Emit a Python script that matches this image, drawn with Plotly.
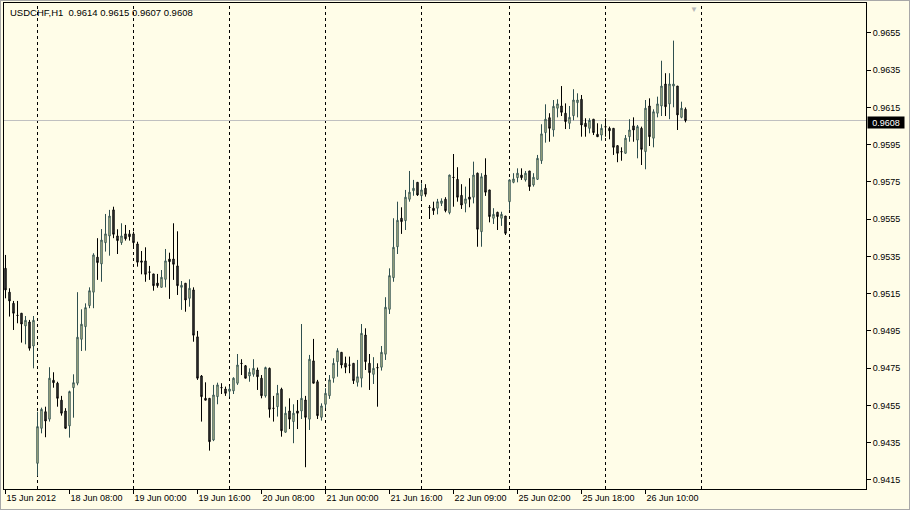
import plotly.graph_objects as go

symbol_title = "USDCHF,H1  0.9614 0.9615 0.9607 0.9608"

open_ = [
    .95286, .95158, .95098, .95034, .95045, .94977, .94998, .94869, .94239, .94427,
    .94516, .94476, .94685, .94669, .94578, .94520, .94440, .94645, .94669, .94905,
    .94973, .95086, .95158, .95346, .95310, .95424, .95460, .95600, .95460, .95424,
    .95471, .95471, .95471, .95417, .95326, .95326, .95267, .95256, .95207, .95184,
    .95227, .95336, .95336, .95299, .95184, .95206, .95125, .95170, .94918, .94708,
    .94588, .94588, .94364, .94597, .94646, .94638, .94626, .94628, .94669, .94776,
    .94763, .94708, .94717, .94740, .94696, .94601, .94749, .94535, .94543, .94637,
    .94406, .94520, .94463, .94520, .94520, .94579, .94476, .94789, .94677, .94486,
    .94556, .94602, .94696, .94785, .94835, .94776, .94767, .94776, .94674, .94696,
    .94928, .94776, .94717, .94753, .94755, .94825, .95066, .95236, .95402, .95555,
    .95542, .95657, .95703, .95748, .95676, .95716, .95614, .95609, .95609, .95635,
    .95657, .95585, .95775, .95764, .95678, .95635, .95669, .95668, .95797, .95483,
    .95787, .95707, .95555, .95587, .95555, .95567, .95644, .95748, .95773, .95787,
    .95761, .95809, .95734, .95764, .95864, .96015, .96095, .96029, .96146, .96158,
    .96119, .96065, .96106, .96176, .96194, .96065, .96038, .96087, .96006, .96002,
    .96047, .96038, .96038, .95945, .95913, .95904, .95993, .96051, .95975, .96038,
    .95913, .96158, .95985, .96119, .96158, .96276, .96169, .96265, .96265, .96097,
    .9614,
]
high = [
    .95358, .95179, .95111, .95111, .95046, .95030, .95009, .95030, .94516, .94538,
    .94543, .94755, .94728, .94677, .94601, .94535, .94629, .94717, .95158, .95066,
    .95098, .95184, .95367, .95448, .95497, .95578, .95600, .95617, .95496, .95528,
    .95519, .95492, .95483, .95429, .95379, .95399, .95299, .95256, .95256, .95277,
    .95390, .95370, .95528, .95485, .95218, .95206, .95227, .95184, .94950, .94713,
    .94674, .94588, .94660, .94672, .94669, .94651, .94651, .94701, .94826, .94798,
    .94767, .94749, .94798, .94753, .94713, .94758, .94753, .94601, .94660, .94645,
    .94543, .94588, .94556, .94579, .94987, .94601, .94821, .94907, .94687, .94561,
    .94642, .94713, .94803, .94857, .94835, .94812, .94812, .94776, .94794, .94987,
    .94964, .94826, .94809, .94776, .94869, .95131, .95286, .95555, .95644, .95614,
    .95707, .95809, .95761, .95748, .95743, .95738, .95626, .95644, .95659, .95662,
    .95668, .95789, .95900, .95829, .95738, .95725, .95770, .95859, .95800, .95797,
    .95877, .95707, .95609, .95590, .95590, .95567, .95764, .95797, .95823, .95823,
    .95809, .95809, .95797, .95895, .96060, .96167, .96119, .96190, .96194, .96265,
    .96172, .96158, .96248, .96226, .96217, .96092, .96092, .96087, .96065, .96060,
    .96092, .96047, .96038, .95945, .95936, .96002, .96087, .96097, .96056, .96047,
    .96190, .96199, .96140, .96208, .96401, .96334, .96334, .96509, .96265, .96181,
    .9615,
]
low = [
    .95125, .95027, .94955, .94991, .94887, .94878, .94844, .94749, .94171, .94400,
    .94379, .94463, .94645, .94543, .94495, .94423, .94377, .94484, .94658, .94842,
    .94844, .95072, .95072, .95224, .95214, .95376, .95354, .95448, .95363, .95412,
    .95435, .95435, .95402, .95295, .95254, .95214, .95224, .95166, .95182, .95184,
    .95184, .95122, .95224, .95143, .95063, .95053, .95080, .94892, .94687, .94463,
    .94578, .94307, .94358, .94556, .94611, .94601, .94597, .94611, .94660, .94713,
    .94696, .94677, .94704, .94633, .94588, .94592, .94484, .94463, .94490, .94382,
    .94404, .94423, .94347, .94423, .94477, .94218, .94418, .94669, .94477, .94468,
    .94535, .94585, .94672, .94704, .94749, .94723, .94723, .94665, .94651, .94647,
    .94740, .94633, .94665, .94543, .94737, .94794, .95041, .95214, .95363, .95471,
    .95492, .95644, .95676, .95675, .95653, .95671, .95551, .95573, .95576, .95621,
    .95587, .95576, .95617, .95644, .95605, .95587, .95614, .95635, .95402, .95402,
    .95675, .95533, .95524, .95492, .95514, .95465, .95600, .95743, .95748, .95761,
    .95752, .95702, .95725, .95761, .95847, .95961, .95966, .95993, .96097, .96104,
    .96034, .96034, .96081, .96097, .95993, .95993, .96011, .96002, .95993, .95972,
    .95993, .95979, .95895, .95856, .95864, .95902, .95966, .95966, .95877, .95841,
    .95818, .95943, .95936, .96097, .96104, .96104, .96087, .96151, .96029, .96092,
    .9607,
]
close = [
    .95170, .95111, .95045, .95033, .94987, .95007, .94857, .95007, .94436, .94529,
    .94466, .94696, .94672, .94588, .94508, .94427, .94624, .94672, .94916, .94986,
    .95075, .95166, .95358, .95317, .95438, .95471, .95567, .95469, .95435, .95460,
    .95445, .95456, .95424, .95319, .95319, .95254, .95265, .95193, .95193, .95238,
    .95326, .95322, .95308, .95193, .95195, .95116, .95179, .94927, .94696, .94597,
    .94578, .94355, .94606, .94660, .94645, .94615, .94638, .94696, .94767, .94775,
    .94696, .94728, .94749, .94704, .94602, .94753, .94529, .94534, .94615, .94414,
    .94508, .94476, .94508, .94508, .94588, .94486, .94798, .94669, .94495, .94547,
    .94615, .94687, .94776, .94844, .94767, .94755, .94766, .94683, .94704, .94937,
    .94785, .94726, .94749, .94752, .94835, .95077, .95247, .95399, .95544, .95537,
    .95668, .95695, .95716, .95680, .95707, .95684, .95613, .95596, .95644, .95648,
    .95596, .95787, .95774, .95668, .95626, .95659, .95657, .95787, .95496, .95778,
    .95695, .95564, .95576, .95564, .95576, .95474, .95761, .95766, .95797, .95773,
    .95797, .95725, .95775, .95877, .96008, .96087, .96038, .96156, .96169, .96124,
    .96074, .96097, .96190, .96190, .96056, .96047, .96081, .96015, .95993, .96038,
    .96046, .96025, .95936, .95904, .95912, .95985, .96029, .96029, .96047, .95925,
    .96146, .95993, .96127, .96169, .96265, .96154, .96276, .96276, .96110, .96146,
    .9608,
]

bars = list(range(len(close)))

# time labels (bar index -> label)
tick_bars = [0, 16, 32, 48, 64, 80, 96, 112, 128, 144, 160]
tick_labels = ["15 Jun 2012", "18 Jun 08:00", "19 Jun 00:00", "19 Jun 16:00",
               "20 Jun 08:00", "21 Jun 00:00", "21 Jun 16:00", "22 Jun 09:00",
               "25 Jun 02:00", "25 Jun 18:00", "26 Jun 10:00"]
# first bar of each day (period separators)
day_start_bars = [8, 32, 56, 80, 104, 126, 150, 174]

price_ticks = [0.9415, 0.9435, 0.9455, 0.9475, 0.9495, 0.9515, 0.9535,
               0.9555, 0.9575, 0.9595, 0.9615, 0.9635, 0.9655]

BG = "#FFFDE8"
FONT = "Liberation Sans"

fig = go.Figure()
fig.add_trace(go.Candlestick(
    x=bars, open=open_, high=high, low=low, close=close,
    increasing=dict(line=dict(color="#2F4F4F", width=1), fillcolor="#F2F0A8"),
    decreasing=dict(line=dict(color="#000000", width=1), fillcolor="#505050"),
    whiskerwidth=0, hoverinfo="skip", showlegend=False,
))

shapes = []
for d in day_start_bars:
    shapes.append(dict(type="line", xref="x", yref="paper", x0=d, x1=d, y0=0, y1=1,
                       line=dict(color="black", width=1, dash="3px,3px"), layer="below"))
last = close[-1]
shapes.append(dict(type="line", xref="paper", yref="y", x0=0, x1=1, y0=last, y1=last,
                   line=dict(color="#C0C0C0", width=1), layer="below"))
# outer window frame
shapes.append(dict(type="rect", xref="paper", yref="paper",
                   x0=-4/862, x1=906/862, y0=-21/486, y1=489/486,
                   line=dict(color="#A8A8A8", width=2)))

annotations = [
    dict(text=symbol_title, xref="paper", yref="paper", x=0, y=1, xshift=4, yshift=-2,
         xanchor="left", yanchor="top", showarrow=False,
         font=dict(family=FONT, size=9.5, color="black")),
    dict(text=f"{last:.4f}", xref="paper", yref="y", x=1, y=last, xanchor="left",
         yanchor="middle", xshift=1, yshift=-2, showarrow=False, bgcolor="black",
         width=34, height=9, align="center", borderpad=1,
         font=dict(family=FONT, size=9, color="white")),
    dict(text="▼", xref="x", yref="paper", x=172, y=1, yanchor="top", showarrow=False,
         font=dict(size=8, color="#B8B8B8")),
]

fig.update_layout(
    width=910, height=510,
    margin=dict(l=4, r=44, t=3, b=21),
    paper_bgcolor=BG, plot_bgcolor=BG,
    boxgap=0.5,
    shapes=shapes, annotations=annotations,
    font=dict(family=FONT, size=9, color="black"),
    xaxis=dict(range=[-0.375, 215.125], showgrid=False, zeroline=False,
               rangeslider=dict(visible=False),
               tickmode="array", tickvals=tick_bars, ticktext=tick_labels,
               ticks="outside", ticklen=4, tickcolor="black",
               ticklabelposition="outside right",
               showline=True, linecolor="black", linewidth=1, mirror=True,
               tickfont=dict(family=FONT, size=9, color="black")),
    yaxis=dict(range=[0.94101, 0.96711], side="right", showgrid=False, zeroline=False,
               tickmode="array", tickvals=price_ticks, tickformat=".4f",
               ticks="outside", ticklen=4, tickcolor="black", automargin=False,
               showline=True, linecolor="black", linewidth=1, mirror=True,
               tickfont=dict(family=FONT, size=9, color="black")),
)

fig.write_html("out.html", config={"displayModeBar": False},
               post_script="document.body.style.margin='0';document.body.style.background='%s';" % BG)
